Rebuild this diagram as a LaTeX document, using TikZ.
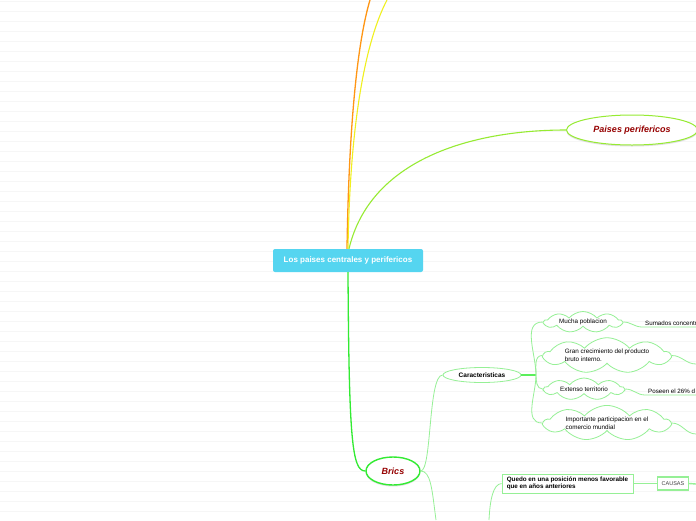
\documentclass[tikz,border=0pt]{standalone}
\usepackage{fontspec}
\setmainfont{Liberation Sans}
\usetikzlibrary{positioning,shapes.geometric,shapes.symbols,shadows}
\definecolor{centralblue}{RGB}{85,213,240}
\definecolor{mmorange}{RGB}{255,150,20}
\definecolor{mmyellow}{RGB}{240,240,30}
\definecolor{mmlime}{RGB}{150,235,50}
\definecolor{mmgreen}{RGB}{50,235,50}
\definecolor{mmpale}{RGB}{150,240,150}
\definecolor{mmred}{RGB}{150,0,0}
\begin{document}
\begin{tikzpicture}[x=1pt,y=-1pt,
  bgline/.style={gray!7,line width=1pt},
  central/.style={rectangle,rounded corners=2pt,fill=centralblue,text=white,
    font=\fontsize{8}{9}\selectfont\bfseries,minimum width=150,minimum height=23,inner sep=0pt},
  maintopic/.style={ellipse,fill=white,text=mmred,inner sep=0pt,
    font=\fontsize{9}{10}\selectfont\bfseries\itshape,
    drop shadow={shadow xshift=0pt,shadow yshift=-1.5pt,opacity=.25}},
  subtopic/.style={ellipse,draw=mmpale,fill=white,line width=.8pt,inner sep=0pt,
    font=\fontsize{6.5}{7.5}\selectfont\bfseries,minimum width=78,minimum height=15},
  puff/.style={cloud,cloud puffs=9,cloud puff arc=100,cloud ignores aspect,draw=mmpale,fill=white,
    line width=.8pt,inner sep=0pt,align=left,font=\fontsize{6.3}{7.8}\selectfont},
  leaf/.style={anchor=south west,inner xsep=3pt,inner ysep=1.5pt,font=\fontsize{6.2}{7}\selectfont},
  paleline/.style={draw=mmpale,line width=.8pt}]
\useasboundingbox (0,0) rectangle (696,520);
\clip (0,0) rectangle (696,520);
\fill[white] (0,0) rectangle (696,520);
\foreach \k in {1,11,...,521}
  \draw[bgline] (0,\k) -- (696,\k);

\node[central] (c) at (348,260.5) {Los paises centrales y perifericos};
\node[maintopic,draw=mmlime,line width=1pt,minimum width=131,minimum height=30] (per) at (632,130) {Paises perifericos};
\node[maintopic,draw=mmgreen,line width=1.4pt,minimum width=54,minimum height=28] (brics) at (393,471) {Brics};
\node[subtopic] (car) at (482,375) {Caracteristicas};
\coordinate (j) at (536,375);
\node[puff,minimum width=78,minimum height=21] (mucha) at (583,322) {Mucha poblacion};
\node[puff,minimum width=126,minimum height=34] (gran) at (607,355.5) {Gran crecimiento del producto\\bruto interno.};
\node[puff,minimum width=80,minimum height=22] (ext) at (584,389) {Extenso territorio};
\node[puff,minimum width=126,minimum height=32] (imp) at (607,423) {Importante participacion en el\\comercio mundial};
\node[leaf] (sum) at (642,327) {Sumados concentr};
\node[leaf] (pos) at (645,395) {Poseen el 26\% d};
\node[draw=mmpale,line width=.9pt,fill=white,align=left,inner sep=0pt,minimum width=131,minimum height=19,
  font=\fontsize{6.3}{7.3}\selectfont\bfseries] (q) at (567.5,483.5) {Quedo en una posición menos favorable\\que en años anteriores};
\node[draw=mmpale,line width=1.2pt,fill=white,inner sep=0pt,minimum width=31,minimum height=13,
  text=black!75,font=\fontsize{5.5}{6.5}\selectfont] (cau) at (673,483.5) {CAUSAS};

\coordinate (o1) at (370,0);
\coordinate (y1) at (387,0);
\coordinate (b1) at (436,520);
\coordinate (b2) at (489,520);
\coordinate (e1) at (696,327);
\coordinate (e2) at (696,364);
\coordinate (e3) at (696,395);
\coordinate (e4) at (696,434);
\coordinate (e5) at (696,484);

\draw[mmorange,line width=1.3pt] ([xshift=-1pt]c.north) .. controls (349,120) and (358,40) .. (o1);
\draw[mmyellow,line width=1.1pt] (c.north) .. controls (350,120) and (366,40) .. (y1);
\draw[mmlime,line width=1.1pt] ([xshift=1pt]c.north) .. controls (370,160) and (470,130) .. (per.west);
\draw[mmgreen,line width=1.3pt] (c.south) .. controls (349,440) and (352,471) .. (brics.west);
\draw[paleline] (brics.east) .. controls (432,471) and (428,375) .. (car.west);
\draw[paleline] (brics.east) .. controls (431,471) and (432,490) .. (b1);
\draw[mmgreen!80,line width=2pt] (car.east) -- (j);
\draw[paleline] (j) to[out=90,in=180] (mucha.west);
\draw[paleline] (j) to[out=90,in=180] (gran.west);
\draw[paleline] (j) to[out=-90,in=180] (ext.west);
\draw[paleline] (j) to[out=-90,in=180] (imp.west);
\draw[paleline] (mucha.east) to[out=0,in=180] (sum.south west) -- (e1);
\draw[paleline] (gran.east) to[out=0,in=180] (e2);
\draw[paleline] (ext.east) to[out=0,in=180] (pos.south west) -- (e3);
\draw[paleline] (imp.east) to[out=0,in=180] (e4);
\draw[paleline] (q.west) .. controls (493,484) and (490,500) .. (b2);
\draw[paleline] (q.east) -- (cau.west);
\draw[paleline,line width=1.4pt] (cau.east) -- (e5);
\end{tikzpicture}
\end{document}
